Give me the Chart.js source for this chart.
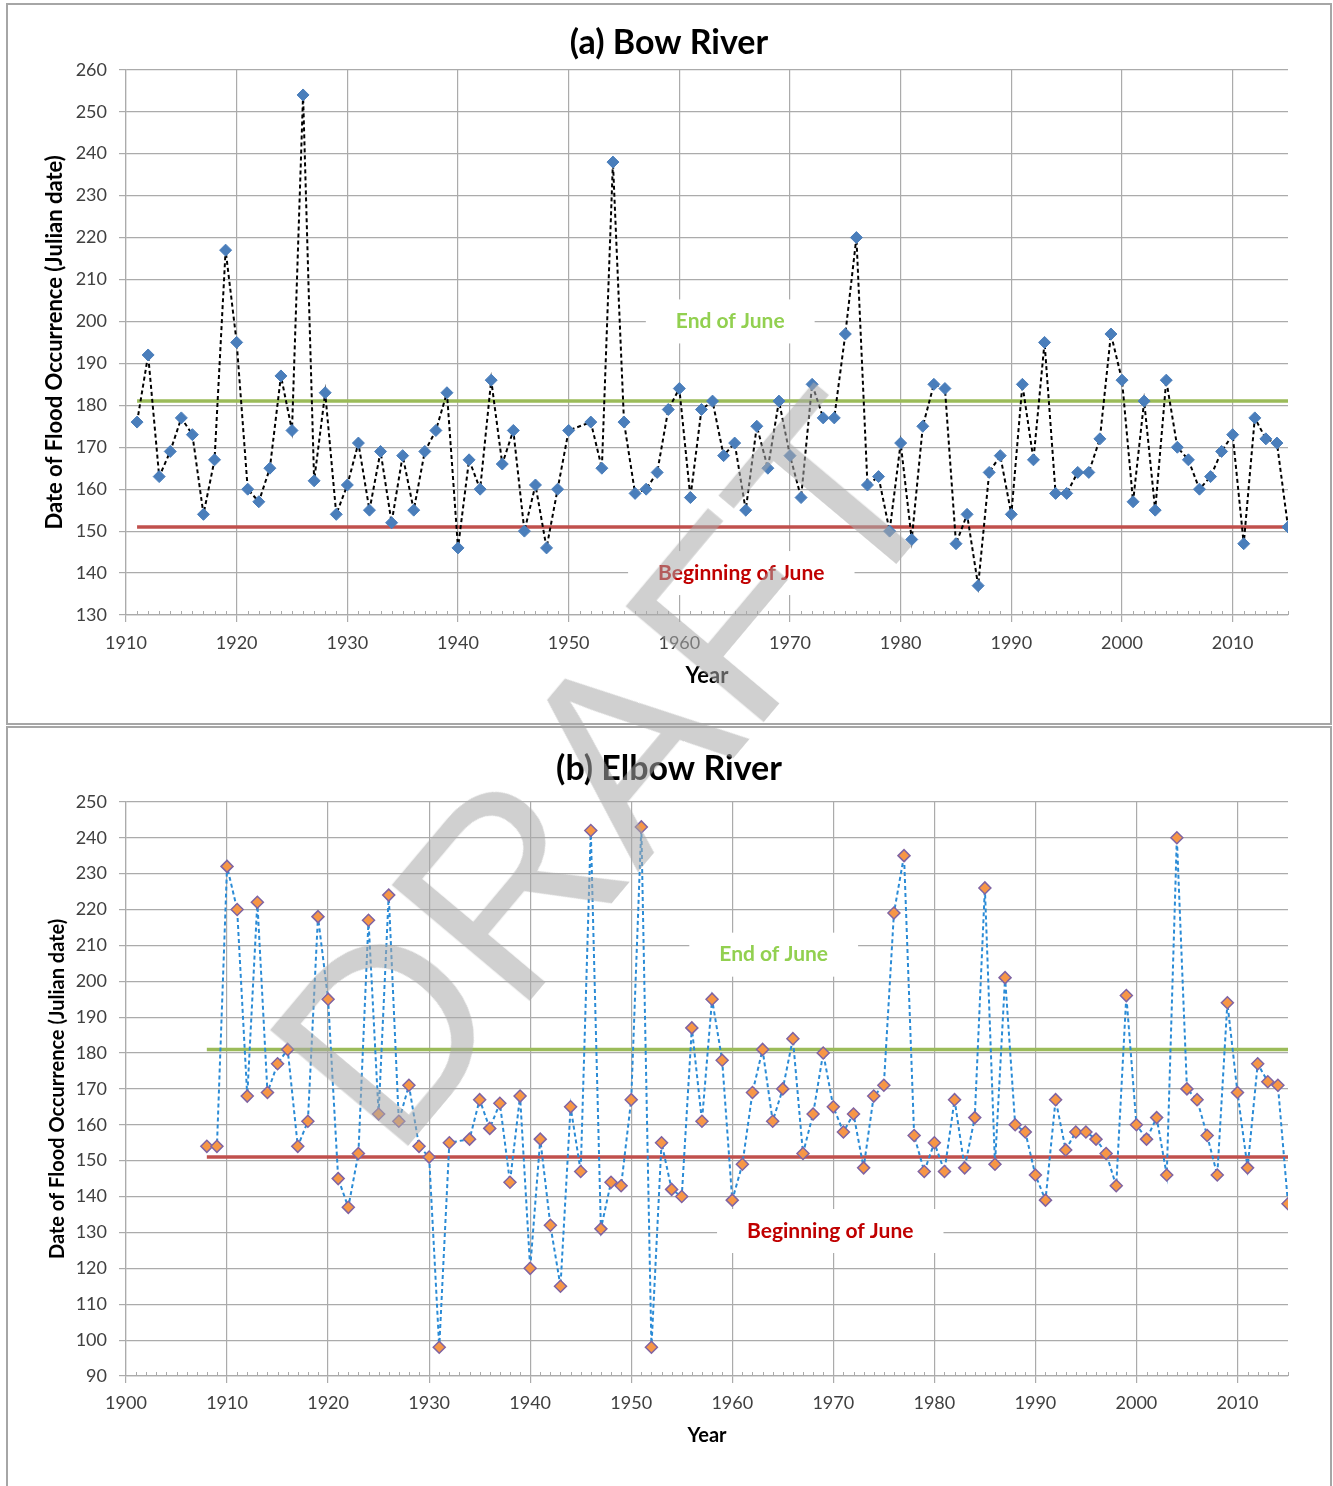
<!DOCTYPE html>
<html><head><meta charset="utf-8">
<script src="https://cdn.jsdelivr.net/npm/chart.js@4.4.1/dist/chart.umd.min.js"></script>
<style>
html,body{margin:0;padding:0;background:#fff;overflow:hidden;width:1333px;height:1486px;}
.box{position:absolute;border:2px solid #a6a6a6;background:#fff;}
canvas{display:block;}
#wm{position:absolute;left:606px;top:770px;transform:translate(-50%,-50%) rotate(-50deg);font-family:"Liberation Sans",Arial,sans-serif;font-size:262px;line-height:1;color:rgba(170,170,170,0.55);white-space:nowrap;pointer-events:none;}
</style></head><body>
<div class="box" style="left:6px;top:3px;width:1322px;height:718px"><canvas id="c1" width="1322" height="718"></canvas></div>
<div class="box" style="left:6px;top:726px;width:1322px;height:760px"><canvas id="c2" width="1322" height="760"></canvas></div>
<div id="wm">DRAFT</div>
<script>
// ---------------- DATA ----------------
const bowYears = [1911,1912,1913,1914,1915,1916,1917,1918,1919,1920,1921,1922,1923,1924,1925,1926,1927,1928,1929,1930,
  1931,1932,1933,1934,1935,1936,1937,1938,1939,1940,1941,1942,1943,1944,1945,1946,1947,1948,1949,1950,
  1952,1953,1954,1955,1956,1957,1958,1959,1960,1961,1962,1963,1964,1965,1966,1967,1968,1969,1970,
  1971,1972,1973,1974,1975,1976,1977,1978,1979,1980,1981,1982,1983,1984,1985,1986,1987,1988,1989,1990,
  1991,1992,1993,1994,1995,1996,1997,1998,1999,2000,2001,2002,2003,2004,2005,2006,2007,2008,2009,2010,
  2011,2012,2013,2014,2015];
const bowDays = [176,192,163,169,177,173,154,167,217,195,160,157,165,187,174,254,162,183,154,161,
  171,155,169,152,168,155,169,174,183,146,167,160,186,166,174,150,161,146,160,174,
  176,165,238,176,159,160,164,179,184,158,179,181,168,171,155,175,165,181,168,
  158,185,177,177,197,220,161,163,150,171,148,175,185,184,147,154,137,164,168,154,
  185,167,195,159,159,164,164,172,197,186,157,181,155,186,170,167,160,163,169,173,
  147,177,172,171,151];

const elbowYears = [1908,1909,1910,1911,1912,1913,1914,1915,1916,1917,1918,1919,1920,1921,1922,1923,1924,1925,1926,1927,
  1928,1929,1930,1931,1932,1934,1935,1936,1937,1938,1939,1940,1941,1942,1943,1944,1945,1946,1947,1948,
  1949,1950,1951,1952,1953,1954,1955,1956,1957,1958,1959,1960,1961,1962,1963,1964,1965,1966,1967,1968,
  1969,1970,1971,1972,1973,1974,1975,1976,1977,1978,1979,1980,1981,1982,1983,1984,1985,1986,1987,1988,
  1989,1990,1991,1992,1993,1994,1995,1996,1997,1998,1999,2000,2001,2002,2003,2004,2005,2006,2007,2008,
  2009,2010,2011,2012,2013,2014,2015];
const elbowDays = [154,154,232,220,168,222,169,177,181,154,161,218,195,145,137,152,217,163,224,161,
  171,154,151,98,155,156,167,159,166,144,168,120,156,132,115,165,147,242,131,144,
  143,167,243,98,155,142,140,187,161,195,178,139,149,169,181,161,170,184,152,163,
  180,165,158,163,148,168,171,219,235,157,147,155,147,167,148,162,226,149,201,160,
  158,146,139,167,153,158,158,156,152,143,196,160,156,162,146,240,170,167,157,146,
  194,169,148,177,172,171,138];

const endOfJuneDay = 181;
const beginningOfJuneDay = 151;

const bowYRange = [130, 260];
const bowXRange = [1910, 2015];
const elbowYRange = [90, 250];
const elbowXRange = [1900, 2015];

const bowLabels = [
  {x: 1964.6, y: 200, text: 'End of June', color: '#92d050'},
  {x: 1965.6, y: 140, text: 'Beginning of June', color: '#c00000'}
];
const elbowLabels = [
  {x: 1964.1, y: 207.4, text: 'End of June', color: '#92d050'},
  {x: 1969.7, y: 130.4, text: 'Beginning of June', color: '#c00000'}
];

// ---------------- CHART ----------------
Chart.defaults.font.family = 'Lato, "Open Sans", sans-serif';
Chart.defaults.color = '#404040';

const GRID = '#ababab';

const minorTicks = {
  id: 'minorTicks',
  beforeDatasetsDraw(chart) {
    const xs = chart.scales.x, area = chart.chartArea, ctx = chart.ctx;
    ctx.save();
    ctx.strokeStyle = GRID;
    ctx.lineWidth = 1;
    ctx.beginPath();
    for (let v = Math.ceil(xs.min); v <= xs.max; v++) {
      if (v % 10 === 0) continue;
      const px = Math.round(xs.getPixelForValue(v)) + 0.5;
      ctx.moveTo(px, area.bottom);
      ctx.lineTo(px, area.bottom - 4);
    }
    ctx.stroke();
    ctx.restore();
  }
};

const textBoxes = {
  id: 'textBoxes',
  beforeDatasetsDraw(chart, args, opts) {
    const ctx = chart.ctx, xs = chart.scales.x, ys = chart.scales.y;
    ctx.save();
    ctx.font = 'bold 21px Lato, sans-serif';
    ctx.textAlign = 'center';
    ctx.textBaseline = 'middle';
    (opts.items || []).forEach(it => {
      const px = xs.getPixelForValue(it.x), py = ys.getPixelForValue(it.y);
      const w = ctx.measureText(it.text).width;
      ctx.fillStyle = '#ffffff';
      ctx.fillRect(px - w / 2 - 30, py - 22, w + 60, 44);
      ctx.fillStyle = it.color;
      ctx.fillText(it.text, px, py);
    });
    ctx.restore();
  }
};

function build(id, o) {
  const pts = o.years.map((y, i) => ({x: y, y: o.days[i]}));
  const x0 = o.years[0], x1 = o.years[o.years.length - 1];
  return new Chart(document.getElementById(id), {
    type: 'scatter',
    data: {
      datasets: [
        {
          data: pts, showLine: true,
          borderColor: o.lineColor, borderWidth: 2, borderDash: [4, 3],
          pointStyle: 'rectRot', pointRadius: o.pointRadius,
          pointBackgroundColor: o.pointFill, pointBorderColor: o.pointBorder, pointBorderWidth: o.pointBorderWidth
        },
        {
          data: [{x: x0, y: endOfJuneDay}, {x: x1, y: endOfJuneDay}], showLine: true,
          borderColor: '#9bbb59', borderWidth: 3.5, pointRadius: 0
        },
        {
          data: [{x: x0, y: beginningOfJuneDay}, {x: x1, y: beginningOfJuneDay}], showLine: true,
          borderColor: '#c0504d', borderWidth: 3.5, pointRadius: 0
        }
      ]
    },
    options: {
      responsive: false, animation: false, devicePixelRatio: 1,
      layout: {padding: {left: 42, right: 42, top: 0, bottom: 0}},
      plugins: {
        legend: {display: false}, tooltip: {enabled: false},
        title: {display: true, text: o.title, color: '#000', font: {size: 34, weight: 'bold'},
          padding: o.titlePad},
        textBoxes: {items: o.labels}
      },
      scales: {
        x: {
          type: 'linear', min: o.xRange[0], max: o.xRange[1],
          afterFit: s => { s.height = o.xAxisH; },
          ticks: {stepSize: 10, includeBounds: false, padding: o.xTickPad, font: {size: 18}, color: '#404040',
            callback: v => String(v)},
          grid: {color: GRID, lineWidth: 1.2, tickLength: 7, drawTicks: true},
          border: {color: GRID, width: 1.2},
          title: {display: true, text: 'Year', color: '#000', font: {size: o.xTitleSize, weight: 'bold'},
            padding: {top: 0, bottom: o.xTitlePadB}}
        },
        y: {
          min: o.yRange[0], max: o.yRange[1],
          afterFit: s => { s.width = 76; },
          ticks: {stepSize: 10, padding: 12, font: {size: 18}, color: '#404040', callback: v => String(v)},
          grid: {color: GRID, lineWidth: 1.2, tickLength: 7},
          border: {color: GRID, width: 1.2},
          title: {display: true, text: 'Date of Flood Occurrence (Julian date)', color: '#000',
            font: {size: o.yTitleSize, weight: 'bold'}, padding: {top: o.yTitlePadT, bottom: 0}}
        }
      }
    },
    plugins: [minorTicks, textBoxes]
  });
}

build('c1', {
  years: bowYears, days: bowDays, title: '(a) Bow River', titlePad: {top: 18, bottom: 6},
  xRange: bowXRange, yRange: bowYRange, labels: bowLabels,
  lineColor: '#000000', pointFill: '#4a7ebb', pointBorder: '#4a7ebb', pointBorderWidth: 1, pointRadius: 6,
  xAxisH: 108, xTickPad: 10, xTitleSize: 22, xTitlePadB: 34, yTitleSize: 22, yTitlePadT: -8
});
build('c2', {
  years: elbowYears, days: elbowDays, title: '(b) Elbow River', titlePad: {top: 21, bottom: 12},
  xRange: elbowXRange, yRange: elbowYRange, labels: elbowLabels,
  lineColor: '#2a8bd6', pointFill: '#f79646', pointBorder: '#8064a2', pointBorderWidth: 1.5, pointRadius: 6,
  xAxisH: 112, xTickPad: 9, xTitleSize: 20, xTitlePadB: 40, yTitleSize: 20, yTitlePadT: -4
});
</script>
</body></html>
